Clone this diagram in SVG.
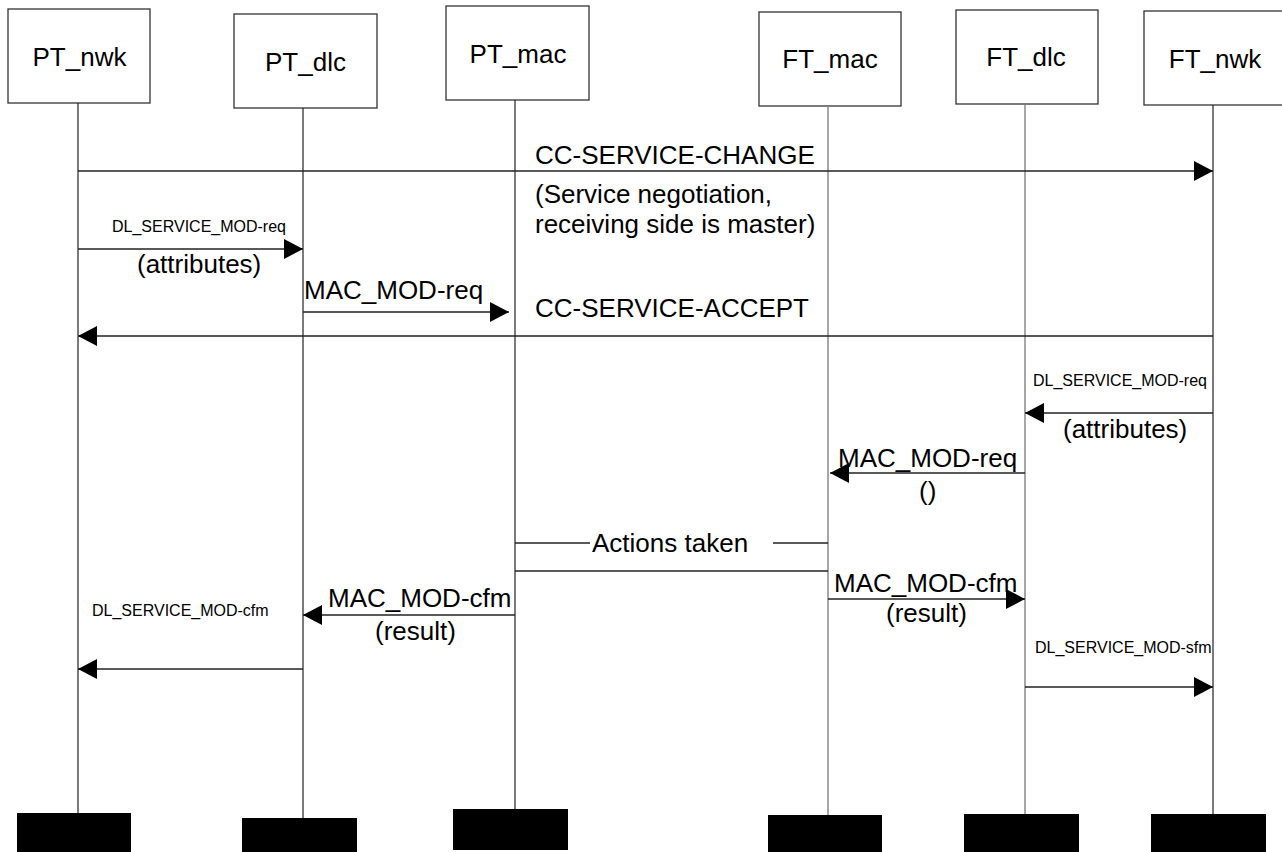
<svg xmlns="http://www.w3.org/2000/svg" width="1282" height="852" viewBox="0 0 1282 852">
<style>
.box{fill:#fff;stroke:#333;stroke-width:1.3}
.end{fill:#000;stroke:none}
.life{stroke:#222;stroke-width:1.2;fill:none}
.lifeg{stroke:#777;stroke-width:1.3;fill:none}
.msg{stroke:#222;stroke-width:1.3;fill:none}
.big{font-family:"Liberation Sans",Arial,sans-serif;font-size:26px;fill:#000}
.small{font-family:"Liberation Sans",Arial,sans-serif;font-size:16px;fill:#000}
.c{text-anchor:middle}
</style>
<defs>
<marker id="ah" markerUnits="userSpaceOnUse" markerWidth="20" markerHeight="20" refX="19" refY="10" orient="auto">
<path d="M0,0 L19,10 L0,20 z" fill="#000"/>
</marker>
</defs>
<rect width="1282" height="852" fill="#fff"/>

<g id="PT_nwk">
<rect class="box" x="8" y="9" width="142" height="94"/>
<text class="big c" x="79.5" y="66">PT_nwk</text>
<line class="life" x1="78" y1="103" x2="78" y2="813"/>
<rect class="end" x="17" y="813" width="114" height="40"/>
</g>
<g id="PT_dlc">
<rect class="box" x="234" y="14" width="143" height="94"/>
<text class="big c" x="305.5" y="71">PT_dlc</text>
<line class="life" x1="303" y1="108" x2="303" y2="818"/>
<rect class="end" x="242" y="818" width="115" height="35"/>
</g>
<g id="PT_mac">
<rect class="box" x="446" y="6" width="143" height="94"/>
<text class="big c" x="518" y="63">PT_mac</text>
<line class="life" x1="515" y1="100" x2="515" y2="809"/>
<rect class="end" x="453" y="809" width="115" height="41"/>
</g>
<g id="FT_mac">
<rect class="box" x="759" y="12" width="142" height="94"/>
<text class="big c" x="830" y="68">FT_mac</text>
<line class="lifeg" x1="828" y1="106" x2="828" y2="815"/>
<rect class="end" x="768" y="815" width="114" height="38"/>
</g>
<g id="FT_dlc">
<rect class="box" x="956" y="10" width="142" height="94"/>
<text class="big c" x="1026" y="66">FT_dlc</text>
<line class="lifeg" x1="1025" y1="104" x2="1025" y2="814"/>
<rect class="end" x="964" y="814" width="115" height="39"/>
</g>
<g id="FT_nwk">
<rect class="box" x="1144" y="11" width="142" height="94"/>
<text class="big c" x="1215" y="68">FT_nwk</text>
<line class="life" x1="1213" y1="105" x2="1213" y2="814"/>
<rect class="end" x="1151" y="814" width="115" height="39"/>
</g>

<g id="connectors">
<line class="msg" x1="78" y1="171" x2="1213" y2="171" marker-end="url(#ah)"/>
<line class="msg" x1="78" y1="249" x2="303" y2="249" marker-end="url(#ah)"/>
<line class="msg" x1="303" y1="312" x2="509" y2="312" marker-end="url(#ah)"/>
<line class="msg" x1="1213" y1="336" x2="78" y2="336" marker-end="url(#ah)"/>
<line class="msg" x1="1213" y1="413" x2="1025" y2="413" marker-end="url(#ah)"/>
<line class="msg" x1="1025" y1="473" x2="830" y2="473" marker-end="url(#ah)"/>
<line class="msg" x1="515" y1="543" x2="590" y2="543"/>
<line class="msg" x1="773" y1="543" x2="828" y2="543"/>
<line class="msg" x1="515" y1="571" x2="828" y2="571"/>
<line class="msg" x1="828" y1="599" x2="1025" y2="599" marker-end="url(#ah)"/>
<line class="msg" x1="515" y1="615" x2="303" y2="615" marker-end="url(#ah)"/>
<line class="msg" x1="303" y1="669" x2="78" y2="669" marker-end="url(#ah)"/>
<line class="msg" x1="1025" y1="687" x2="1213" y2="687" marker-end="url(#ah)"/>
</g>

<g id="labels">
<text class="big" x="535" y="164">CC-SERVICE-CHANGE</text>
<text class="big" x="535" y="203">(Service negotiation,</text>
<text class="big" x="535" y="233">receiving side is master)</text>
<text class="small" x="112" y="232">DL_SERVICE_MOD-req</text>
<text class="big" x="137" y="273">(attributes)</text>
<text class="big" x="304" y="299">MAC_MOD-req</text>
<text class="big" x="535" y="317">CC-SERVICE-ACCEPT</text>
<text class="small" x="1033" y="386">DL_SERVICE_MOD-req</text>
<text class="big" x="1063" y="438">(attributes)</text>
<text class="big" x="838" y="467">MAC_MOD-req</text>
<text class="big" x="919" y="500">()</text>
<text class="big" x="592" y="552">Actions taken</text>
<text class="big" x="834" y="592">MAC_MOD-cfm</text>
<text class="big" x="886" y="622">(result)</text>
<text class="big" x="328" y="607">MAC_MOD-cfm</text>
<text class="big" x="375" y="640">(result)</text>
<text class="small" x="92" y="616">DL_SERVICE_MOD-cfm</text>
<text class="small" x="1035" y="653">DL_SERVICE_MOD-sfm</text>
</g>
</svg>
